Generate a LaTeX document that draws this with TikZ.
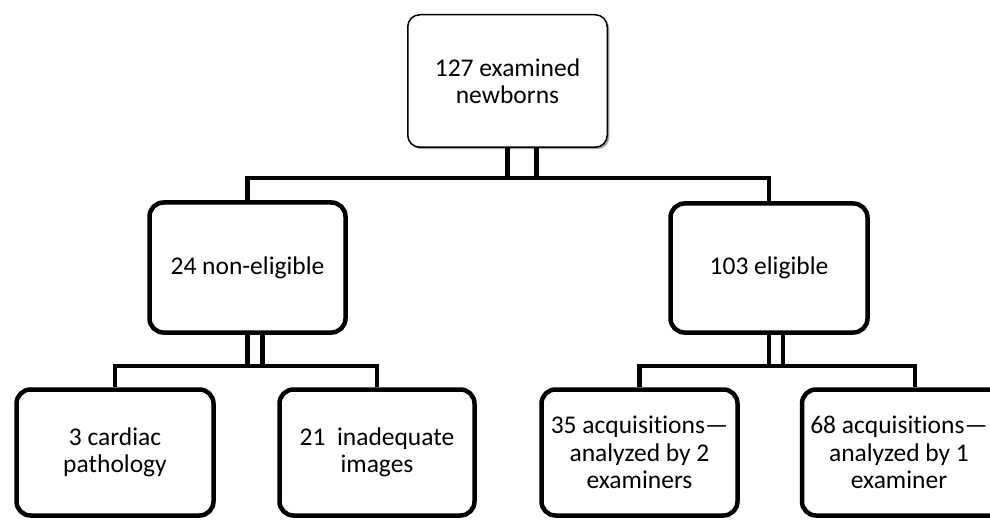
\documentclass[tikz,border=0pt]{standalone}
\usepackage{fontspec}
\setmainfont{Carlito}[Ligatures=NoCommon]
\usetikzlibrary{shadows}
\begin{document}
\begin{tikzpicture}[x=1pt,y=-1pt,
  txt/.style={align=center, font=\fontsize{25.5}{27.5}\selectfont, inner sep=0pt},
  box/.style={txt, draw, fill=white, rounded corners=14pt, line width=4.5pt},
  topbox/.style={box, line width=1.5pt, rounded corners=12pt,
    drop shadow={shadow xshift=2pt, shadow yshift=-2pt, opacity=0.35, fill=black}},
  conn/.style={line width=4.5pt}]
\useasboundingbox (0,0) rectangle (990,521);
% nodes
\node[topbox, minimum width=199.5pt, minimum height=132.5pt] (top) at (507.5,81) {127 examined\\newborns};
\node[box, minimum width=196pt, minimum height=130pt] (nonel) at (247.5,267.5) {24 non-eligible};
\node[box, minimum width=197pt, minimum height=129pt] (elig) at (769,268) {103 eligible};
\node[box, minimum width=197pt, minimum height=126pt] (b1) at (115,452.5) {3 cardiac\\pathology};
\node[box, minimum width=195pt, minimum height=126pt] (b2) at (377,452.5) {21\ \ inadequate\\images};
\node[box, minimum width=196pt, minimum height=126pt] (b3) at (639.5,452.5) {35 acquisitions---\\analyzed by 2\\examiners};
\node[box, minimum width=226pt, minimum height=126pt] (b4) at (915,452.5) {};
\node[txt] (b4t) at ([xshift=-16pt]b4.center) {68 acquisitions---\\analyzed by 1\\examiner};
% connector levels
\coordinate (h1) at (0,178);
\coordinate (h2) at (0,366);
% top level
\draw[conn] (top.south) -- (top.south |- h1);
\draw[conn] ([xshift=29pt]top.south) -- ([xshift=29pt]top.south |- h1);
\draw[conn] (nonel.north) |- (h1 -| elig.north) -- (elig.north);
% left branch
\draw[conn] (nonel.south) -- (nonel.south |- h2);
\draw[conn] ([xshift=15pt]nonel.south) -- ([xshift=15pt]nonel.south |- h2);
\draw[conn] (b1.north) |- (h2 -| b2.north) -- (b2.north);
% right branch
\draw[conn] (elig.south) -- (elig.south |- h2);
\draw[conn] ([xshift=14pt]elig.south) -- ([xshift=14pt]elig.south |- h2);
\draw[conn] (b3.north) |- (h2 -| b4.north) -- (b4.north);
\end{tikzpicture}
\end{document}
